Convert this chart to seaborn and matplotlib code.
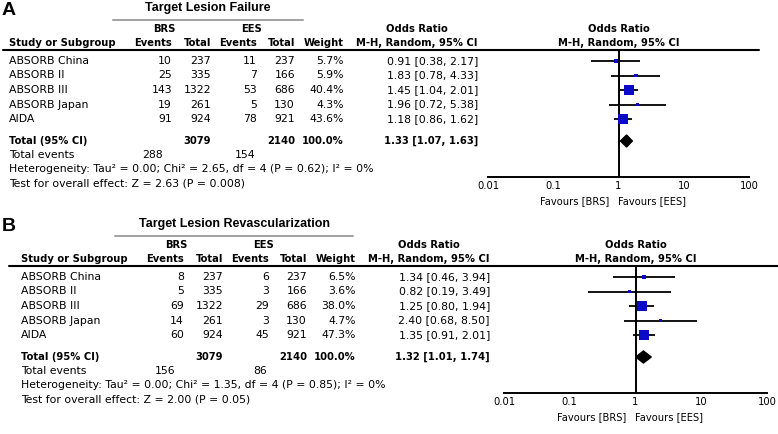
import numpy as np
import matplotlib
matplotlib.use("Agg")
import matplotlib.pyplot as plt
import seaborn as sns

# ---- data ----
studies = ["ABSORB China", "ABSORB II", "ABSORB III", "ABSORB Japan", "AIDA"]
brs_total = [237, 335, 1322, 261, 924]
ees_total = [237, 166, 686, 130, 921]

tlf_brs_events = [10, 25, 143, 19, 91]
tlf_ees_events = [11, 7, 53, 5, 78]
tlf_weight = [5.7, 5.9, 40.4, 4.3, 43.6]
tlf_or = [0.91, 1.83, 1.45, 1.96, 1.18]
tlf_lo = [0.38, 0.78, 1.04, 0.72, 0.86]
tlf_hi = [2.17, 4.33, 2.01, 5.38, 1.62]
tlf_pooled = [1.33, 1.07, 1.63]
tlf_events_sum = [288, 154]
tlf_het = "Heterogeneity: Tau² = 0.00; Chi² = 2.65, df = 4 (P = 0.62); I² = 0%"
tlf_test = "Test for overall effect: Z = 2.63 (P = 0.008)"

tlr_brs_events = [8, 5, 69, 14, 60]
tlr_ees_events = [6, 3, 29, 3, 45]
tlr_weight = [6.5, 3.6, 38.0, 4.7, 47.3]
tlr_or = [1.34, 0.82, 1.25, 2.40, 1.35]
tlr_lo = [0.46, 0.19, 0.80, 0.68, 0.91]
tlr_hi = [3.94, 3.49, 1.94, 8.50, 2.01]
tlr_pooled = [1.32, 1.01, 1.74]
tlr_events_sum = [156, 86]
tlr_het = "Heterogeneity: Tau² = 0.00; Chi² = 1.35, df = 4 (P = 0.85); I² = 0%"
tlr_test = "Test for overall effect: Z = 2.00 (P = 0.05)"

ticks = [0.01, 0.1, 1, 10, 100]
tick_labels = ["0.01", "0.1", "1", "10", "100"]

sns.set_style("white")
plt.rcParams['font.family'] = ['DejaVu Sans']
plt.rcParams['text.color'] = 'black'
plt.rcParams['xtick.color'] = 'black'
plt.rcParams['axes.edgecolor'] = 'black'

W, H = 778, 434
fig = plt.figure(figsize=(W / 100, H / 100), dpi=100)
bg = fig.add_axes([0, 0, 1, 1])
bg.set_xlim(0, W)
bg.set_ylim(H, 0)
bg.axis("off")

FS = 7.8      # regular table text
FSB = 7.2     # bold headers
BLUE = "#0a0ac8"


def txt(x, y, s, ha="left", bold=False, **kw):
    size = kw.pop("fontsize", FSB if bold else FS)
    va = kw.pop("va", "center")
    bg.text(x, y, s, ha=ha, va=va, fontsize=size,
            fontweight="bold" if bold else "normal", **kw)


def panel(letter, title, dy, dx, title_x, gray_span, fx0, fx1, line_end,
          brs_ev, ees_ev, weight, orr, lo, hi, pooled, ev_sum, het, test):
    # column right edges
    c_ev1, c_tot1, c_ev2, c_tot2, c_w, c_or = [v + dx for v in (172, 211, 257, 295, 344, 478)]
    txt(2, 15 + dy, letter, bold=True, fontsize=14, family="Liberation Sans", va="baseline")
    txt(title_x, 8 + dy, title, ha="center", bold=True, fontsize=9, family="Liberation Sans")
    bg.plot(gray_span, [20 + dy, 20 + dy], color="#a0a0a0", lw=1.4)
    txt(164 + dx, 29 + dy, "BRS", ha="center", bold=True)
    txt(252 + dx, 29 + dy, "EES", ha="center", bold=True)
    txt(417 + dx, 29 + dy, "Odds Ratio", ha="center", bold=True)
    txt(9 + dx, 43 + dy, "Study or Subgroup", bold=True)
    for xr, lab in zip((c_ev1, c_tot1, c_ev2, c_tot2, c_w, c_or),
                       ("Events", "Total", "Events", "Total", "Weight",
                        "M-H, Random, 95% CI")):
        txt(xr, 43 + dy, lab, ha="right", bold=True)
    bg.plot([3 + dx * 0.5, line_end], [50 + dy, 50 + dy], color="black", lw=1.5)

    rows = [61 + dy + 14.5 * i for i in range(len(studies))]
    for i, y in enumerate(rows):
        txt(9 + dx, y, studies[i])
        txt(c_ev1, y, str(brs_ev[i]), ha="right")
        txt(c_tot1, y, str(brs_total[i]), ha="right")
        txt(c_ev2, y, str(ees_ev[i]), ha="right")
        txt(c_tot2, y, str(ees_total[i]), ha="right")
        txt(c_w, y, f"{weight[i]:.1f}%", ha="right")
        txt(c_or, y, f"{orr[i]:.2f} [{lo[i]:.2f}, {hi[i]:.2f}]", ha="right")
    yt = 141 + dy
    txt(9 + dx, yt, "Total (95% CI)", bold=True)
    txt(c_tot1, yt, str(sum(brs_total)), ha="right", bold=True)
    txt(c_tot2, yt, str(sum(ees_total)), ha="right", bold=True)
    txt(c_w, yt, "100.0%", ha="right", bold=True)
    txt(c_or, yt, f"{pooled[0]:.2f} [{pooled[1]:.2f}, {pooled[2]:.2f}]", ha="right", bold=True)
    txt(9 + dx, 155.5 + dy, "Total events")
    txt(163 + dx, 155.5 + dy, str(ev_sum[0]), ha="right")
    txt(255 + dx, 155.5 + dy, str(ev_sum[1]), ha="right")
    txt(9 + dx, 169.5 + dy, het)
    txt(9 + dx, 183.5 + dy, test)

    # forest axes, y in figure pixels
    y0, y1 = 50 + dy, 177 + dy
    ax = fig.add_axes([fx0 / W, 1 - y1 / H, (fx1 - fx0) / W, (y1 - y0) / H])
    ax.set_xscale("log")
    ax.set_xlim(0.01, 100)
    ax.set_ylim(y1, y0)
    ax.patch.set_alpha(0)
    for s in ("top", "left", "right"):
        ax.spines[s].set_visible(False)
    ax.spines["bottom"].set_linewidth(1.4)
    ax.set_xticks(ticks)
    ax.set_xticklabels(tick_labels)
    ax.minorticks_off()
    ax.tick_params(axis="x", direction="in", length=6, width=1.4, labelsize=7.2, pad=3)
    ax.set_yticks([])
    ax.axvline(1, color="black", lw=1.4)
    ax.hlines(rows, lo, hi, color="black", lw=1.3)
    sns.scatterplot(x=orr, y=rows, size=weight, sizes=(0, 62), size_norm=(0, 50),
                    marker="s", color=BLUE, linewidth=0, legend=False, ax=ax, zorder=3)
    p, pl, ph = pooled
    ax.fill([pl, p, ph, p], [yt, yt - 6, yt, yt + 6], color="black", zorder=3)

    xc = (fx0 + fx1) / 2
    txt(xc, 29 + dy, "Odds Ratio", ha="center", bold=True)
    txt(xc, 43 + dy, "M-H, Random, 95% CI", ha="center", bold=True)
    txt(xc - 9, 201 + dy, "Favours [BRS]", ha="right", fontsize=7.1)
    txt(xc, 201 + dy, "Favours [EES]", ha="left", fontsize=7.1)


panel("A", "Target Lesion Failure", 0, 0, 208, [113, 303], 488, 749, 759,
      tlf_brs_events, tlf_ees_events, tlf_weight, tlf_or, tlf_lo, tlf_hi,
      tlf_pooled, tlf_events_sum, tlf_het, tlf_test)
panel("B", "Target Lesion Revascularization", 216, 12, 235, [115, 353], 504, 767, 778,
      tlr_brs_events, tlr_ees_events, tlr_weight, tlr_or, tlr_lo, tlr_hi,
      tlr_pooled, tlr_events_sum, tlr_het, tlr_test)

fig.savefig("out.png", dpi=100)
